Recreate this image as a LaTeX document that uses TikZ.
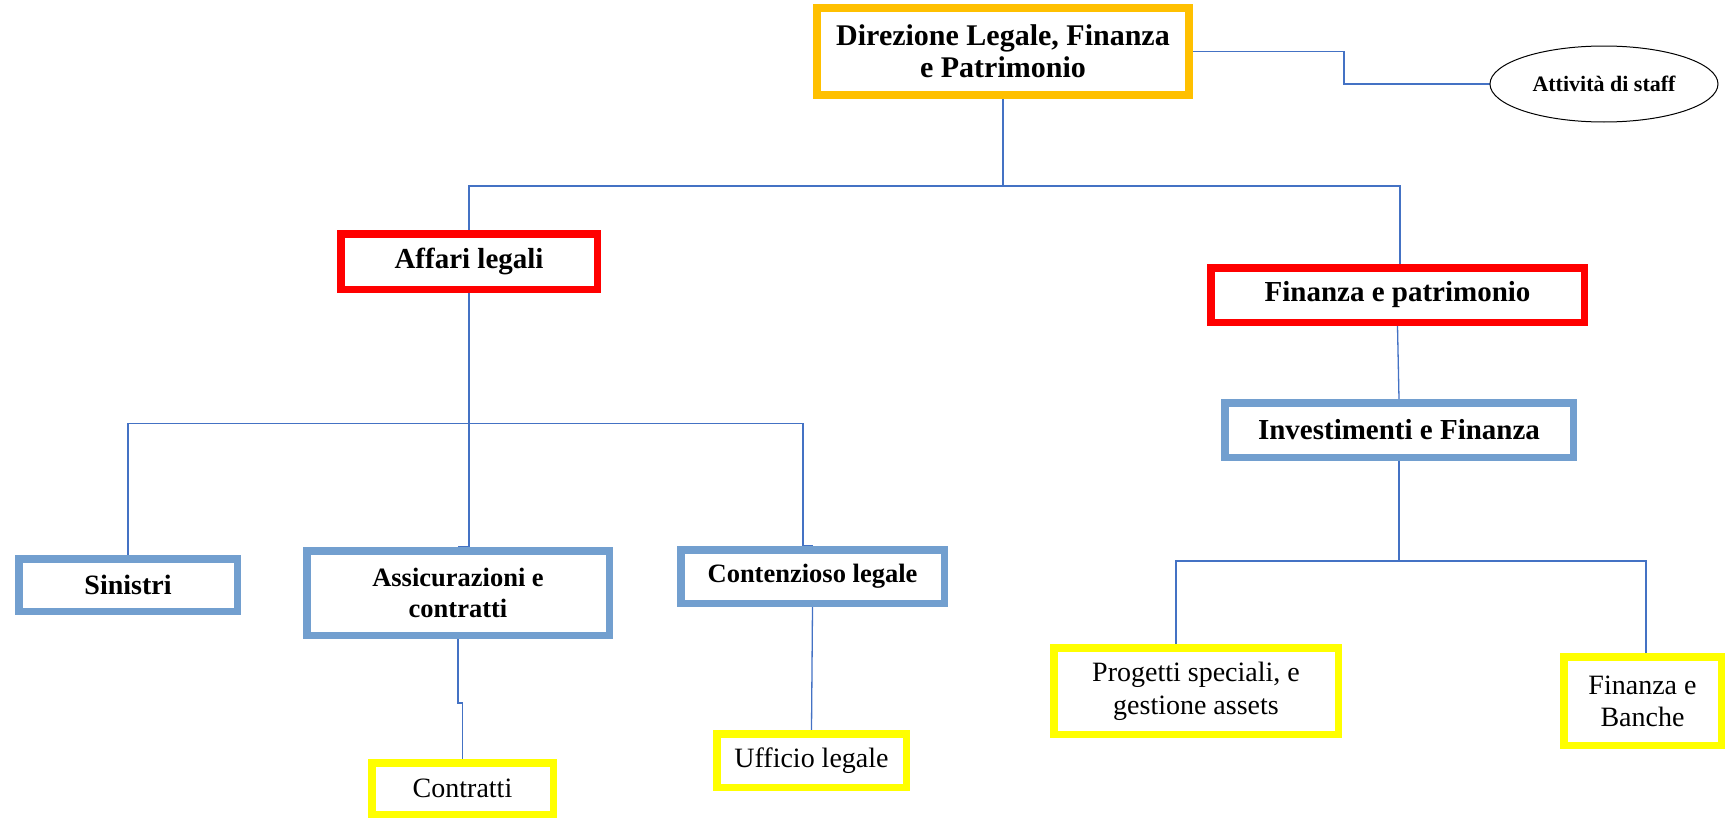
\documentclass[tikz,border=0pt]{standalone}
\usepackage{fontspec}
\setmainfont{Liberation Serif}
\usetikzlibrary{shapes.geometric,backgrounds}
\definecolor{orgbox}{HTML}{FFC000}
\definecolor{redbox}{HTML}{FF0000}
\definecolor{bluebox}{HTML}{729FCF}
\definecolor{yelbox}{HTML}{FFFF00}
\definecolor{connblue}{HTML}{4472C4}
\begin{document}
\begin{tikzpicture}[x=1pt,y=-1pt,
  box/.style={draw, line width=7.5pt, inner sep=0pt, align=center, fill=white},
  conn/.style={draw=connblue, line width=1.3pt},
  bt/.style={font=\bfseries\fontsize{29}{32}\selectfont},
  bts/.style={font=\bfseries\fontsize{26.5}{31}\selectfont},
  rt/.style={font=\fontsize{28}{33}\selectfont}]
\useasboundingbox (0,0) rectangle (1725,819);
% nodes
\node[box, draw=orgbox, line width=8pt, minimum width=372pt, minimum height=87pt, font=\bfseries\fontsize{30}{32}\selectfont] (dir) at (1003,51.5) {Direzione Legale, Finanza\\e Patrimonio};
\node[ellipse, draw=black, line width=1pt, minimum width=228pt, minimum height=76pt, inner sep=0pt, font=\bfseries\fontsize{22}{24}\selectfont] (staff) at (1604,84) {Attività di staff};
\node[box, draw=redbox, minimum width=256.5pt, minimum height=55.5pt, bt] (affari) at (469,261.5) {Affari legali};
\node[box, draw=redbox, minimum width=373.5pt, minimum height=54.5pt, bt] (finpat) at (1397.5,295) {Finanza e patrimonio};
\node[box, draw=bluebox, minimum width=348.5pt, minimum height=54.5pt, bt] (invest) at (1399,430) {Investimenti e Finanza};
\node[box, draw=bluebox, minimum width=218.5pt, minimum height=52.5pt, font=\bfseries\fontsize{28}{32}\selectfont] (sinistri) at (128,585) {Sinistri};
\node[box, draw=bluebox, minimum width=302.5pt, minimum height=84.5pt, bts] (assic) at (458,593) {Assicurazioni e\\contratti};
\node[box, draw=bluebox, minimum width=263.5pt, minimum height=53.5pt, bts] (contenz) at (812.5,576.5) {Contenzioso legale};
\node[box, draw=yelbox, minimum width=181.5pt, minimum height=51.5pt, rt] (contratti) at (462.5,788.5) {Contratti};
\node[box, draw=yelbox, minimum width=189.5pt, minimum height=53.5pt, rt] (ufficio) at (811.5,760.5) {Ufficio legale};
\node[box, draw=yelbox, minimum width=284.5pt, minimum height=86.5pt, rt] (progetti) at (1196,691) {Progetti speciali, e\\gestione assets};
\node[box, draw=yelbox, minimum width=157.5pt, minimum height=88.5pt, font=\fontsize{28}{32}\selectfont] (banche) at (1642.5,701) {Finanza e\\Banche};
% connectors
\begin{pgfonlayer}{background}
\draw[conn] (dir.east) -- ++(151,0) |- (staff.west);
\draw[conn] (dir.south) -- ++(0,87) coordinate (b0) -| (affari.north);
\draw[conn] (b0) -| ([xshift=2.5pt]finpat.north);
\draw[conn] (affari.south) -- ++(0,130.75) coordinate (b1) -| (sinistri.north);
\draw[conn] (b1) -- ([xshift=11pt]assic.north) -- (assic.north);
\draw[conn] (b1) -| ([xshift=-9.5pt]contenz.north) -- (contenz.north);
\draw[conn] (assic.south) -- ++(0,64) -| (contratti.north);
\draw[conn] (contenz.south) -- (ufficio.north);
\draw[conn] (finpat.south) -- (invest.north);
\draw[conn] (invest.south) -- ++(0,100) coordinate (b2) -| ([xshift=-20pt]progetti.north);
\draw[conn] (b2) -| ([xshift=3.5pt]banche.north);
\end{pgfonlayer}
\end{tikzpicture}
\end{document}
